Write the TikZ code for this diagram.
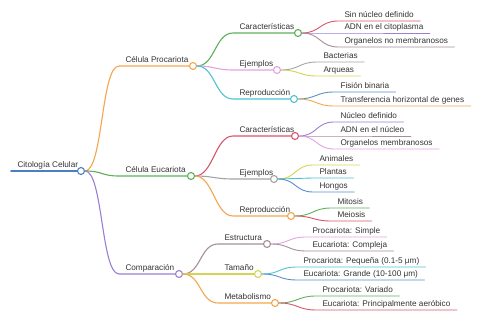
\documentclass[tikz,border=0pt]{standalone}
\usepackage{fontspec}
\setmainfont{Liberation Sans}
\usetikzlibrary{positioning}
\definecolor{ctext}{HTML}{333333}
\definecolor{cblue}{HTML}{4A7FC1}
\definecolor{corange}{HTML}{F2A74E}
\definecolor{cgreen}{HTML}{5DAF5A}
\definecolor{cpurple}{HTML}{9A80D2}
\definecolor{cpink}{HTML}{E3A3E0}
\definecolor{ccyan}{HTML}{4EC3D3}
\definecolor{cred}{HTML}{D6566B}
\definecolor{cgrey}{HTML}{A3A3A3}
\definecolor{cmauve}{HTML}{A68E9A}
\definecolor{cyellow}{HTML}{D2D455}
\definecolor{cdblue}{HTML}{5A8FC8}
\tikzset{
  every picture/.style={font=\fontsize{8.2}{10}\selectfont, line width=1pt},
  lbl/.style={anchor=south west, inner xsep=6pt, inner ysep=2.8pt, text depth=0pt, text=ctext},
  dot/.style={draw=#1, fill=white, circle, minimum size=7pt, inner sep=0pt, line width=1.1pt},
  link/.style={draw=#1, line cap=round, line width=1.1pt},
  leaf/.style={draw=#1, line cap=round, line width=0.9pt},
  twig/.style={to path={.. controls +(18,0) and +(-18,0) .. (\tikztotarget)}},
}

\begin{document}
\begin{tikzpicture}[x=1pt, y=-1pt]
  \useasboundingbox (0,0) rectangle (480,320);
  % root
  \node[lbl] (cito) at (11,171) {Citología Celular};
  \node[dot=cblue] (citoc) at (81,171) {};
  \draw[link=cblue, line width=1.6pt] (cito.south west) -- (citoc.west);

  % first level
  \node[lbl] (proc) at (119,66)  {Célula Procariota}; \node[dot=corange] (procc) at (193,66) {};
  \node[lbl] (euca) at (119,176) {Célula Eucariota};  \node[dot=cgreen]  (eucac) at (191,176) {};
  \node[lbl] (comp) at (119,274) {Comparación};       \node[dot=cpurple] (compc) at (179,274) {};
  \draw[link=corange] (citoc.east) to[twig] (proc.south west) -- (procc.west);
  \draw[link=cgreen]  (citoc.east) to[twig] (euca.south west) -- (eucac.west);
  \draw[link=cpurple] (citoc.east) to[twig] (comp.south west) -- (compc.west);

  % second level
  \node[lbl] (pcar) at (233,33)  {Características}; \node[dot=cgreen]  (pcarc) at (298,33) {};
  \node[lbl] (pej)  at (233,70)  {Ejemplos};        \node[dot=cpink]   (pejc)  at (277,70) {};
  \node[lbl] (prep) at (233,99)  {Reproducción};    \node[dot=ccyan]   (prepc) at (294,99) {};
  \draw[link=cgreen] (procc.east) to[twig] (pcar.south west) -- (pcarc.west);
  \draw[link=cpink]  (procc.east) to[twig] (pej.south west) -- (pejc.west);
  \draw[link=ccyan]  (procc.east) to[twig] (prep.south west) -- (prepc.west);

  \node[lbl] (ecar) at (233,136) {Características}; \node[dot=cred]    (ecarc) at (295,136) {};
  \node[lbl] (eej)  at (233,179) {Ejemplos};        \node[dot=cgrey]   (eejc)  at (274,179) {};
  \node[lbl] (erep) at (233,216) {Reproducción};    \node[dot=corange] (erepc) at (291,216) {};
  \draw[link=cred]    (eucac.east) to[twig] (ecar.south west) -- (ecarc.west);
  \draw[link=cgrey]   (eucac.east) to[twig] (eej.south west) -- (eejc.west);
  \draw[link=corange] (eucac.east) to[twig] (erep.south west) -- (erepc.west);

  \node[lbl] (est) at (218,244) {Estructura};  \node[dot=cmauve]  (estc) at (267,244) {};
  \node[lbl] (tam) at (218,274) {Tamaño};      \node[dot=cyellow] (tamc) at (258,274) {};
  \node[lbl] (met) at (218,303) {Metabolismo}; \node[dot=corange] (metc) at (275,303) {};
  \draw[link=cmauve]  (compc.east) to[twig] (est.south west) -- (estc.west);
  \draw[link=cyellow] (compc.east) to[twig] (tam.south west) -- (tamc.west);
  \draw[link=corange] (compc.east) to[twig] (met.south west) -- (metc.west);

  % leaves
  \foreach \y/\c/\t [count=\i] in {21/cred/Sin núcleo definido, 33/cpurple/ADN en el citoplasma, 47/cmauve/Organelos no membranosos}{
    \node[lbl] (pcar\i) at (338,\y) {\t};
    \draw[leaf=\c] (pcarc.east) to[twig] (pcar\i.south west) -- (pcar\i.south east);
  }
  \foreach \y/\c/\t [count=\i] in {62/cgrey/Bacterias, 76/cyellow/Arqueas}{
    \node[lbl] (pej\i) at (317,\y) {\t};
    \draw[leaf=\c] (pejc.east) to[twig] (pej\i.south west) -- (pej\i.south east);
  }
  \foreach \y/\c/\t [count=\i] in {92/cdblue/Fisión binaria, 106/corange/Transferencia horizontal de genes}{
    \node[lbl] (prep\i) at (334,\y) {\t};
    \draw[leaf=\c] (prepc.east) to[twig] (prep\i.south west) -- (prep\i.south east);
  }
  \foreach \y/\c/\t [count=\i] in {122/cpurple/Núcleo definido, 136/cmauve/ADN en el núcleo, 149/cpink/Organelos membranosos}{
    \node[lbl] (ecar\i) at (334,\y) {\t};
    \draw[leaf=\c] (ecarc.east) to[twig] (ecar\i.south west) -- (ecar\i.south east);
  }
  \foreach \y/\c/\t [count=\i] in {165/cyellow/Animales, 178/ccyan/Plantas, 192/cdblue/Hongos}{
    \node[lbl] (eej\i) at (313,\y) {\t};
    \draw[leaf=\c] (eejc.east) to[twig] (eej\i.south west) -- (eej\i.south east);
  }
  \foreach \y/\c/\t [count=\i] in {208/cgreen/Mitosis, 221/cred/Meiosis}{
    \node[lbl] (erep\i) at (331,\y) {\t};
    \draw[leaf=\c] (erepc.east) to[twig] (erep\i.south west) -- (erep\i.south east);
  }
  \foreach \y/\c/\t [count=\i] in {237/cpink/Procariota: Simple, 251/cmauve/Eucariota: Compleja}{
    \node[lbl] (est\i) at (306,\y) {\t};
    \draw[leaf=\c] (estc.east) to[twig] (est\i.south west) -- (est\i.south east);
  }
  \foreach \y/\c/\t [count=\i] in {267/ccyan/Procariota: Pequeña (0.1-5 μm), 280/cdblue/Eucariota: Grande (10-100 μm)}{
    \node[lbl] (tam\i) at (297,\y) {\t};
    \draw[leaf=\c] (tamc.east) to[twig] (tam\i.south west) -- (tam\i.south east);
  }
  \foreach \y/\c/\t [count=\i] in {296/cgreen/Procariota: Variado, 310/cred/Eucariota: Principalmente aeróbico}{
    \node[lbl] (met\i) at (316,\y) {\t};
    \draw[leaf=\c] (metc.east) to[twig] (met\i.south west) -- (met\i.south east);
  }
\end{tikzpicture}
\end{document}
